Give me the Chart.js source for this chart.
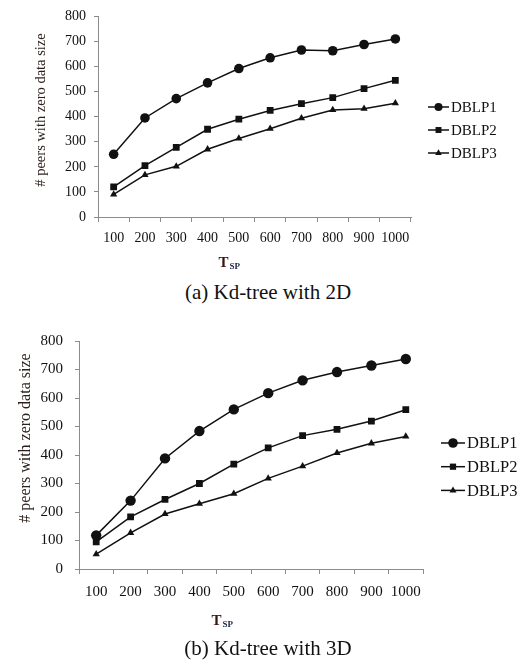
<!DOCTYPE html>
<html lang="en">
<head>
  <meta charset="UTF-8">
  <title>Kd-tree: peers with zero data size</title>
  <script src="https://cdn.jsdelivr.net/npm/chart.js"></script>
  <style>
    body {
      margin: 0;
      background: #fff;
      font-family: "Liberation Serif", "DejaVu Serif", serif;
      color: #111;
    }
    .wrap {
      position: relative;
      width: 520px;
      height: 666px;
    }
    canvas {
      position: absolute;
      left: 0;
    }
    .caption {
      position: absolute;
      left: 0;
      width: 536px;
      text-align: center;
      font-size: 21px;
      line-height: 24px;
    }
  </style>
</head>
<body>
<div class="wrap">
  <canvas id="chart2d" width="520" height="275" style="top:0"></canvas>
  <div class="caption" style="top:280px">(a) Kd-tree with 2D</div>
  <canvas id="chart3d" width="520" height="320" style="top:320px"></canvas>
  <div class="caption" style="top:636px">(b) Kd-tree with 3D</div>
</div>

<script>
  // T_SP values on the x axis
  const categories = ['100', '200', '300', '400', '500', '600', '700', '800', '900', '1000'];
  const seriesNames = ['DBLP1', 'DBLP2', 'DBLP3'];
  const markers = ['circle', 'rect', 'triangle'];

  // (a) 2D
  const dblp1_2d = [250, 395, 472, 535, 592, 635, 666, 663, 688, 710];
  const dblp2_2d = [120, 205, 278, 350, 390, 425, 452, 476, 512, 545];
  const dblp3_2d = [90, 168, 202, 270, 313, 352, 394, 427, 432, 454];

  // (b) 3D
  const dblp1_3d = [118, 240, 388, 484, 560, 617, 662, 691, 714, 737];
  const dblp2_3d = [95, 183, 244, 300, 368, 425, 468, 490, 519, 559];
  const dblp3_3d = [52, 127, 193, 229, 264, 318, 361, 407, 441, 465];

  const yMin = 0, yMax = 800, yStep = 100;
  const yTitle = '# peers with zero data size';

  const ink = '#111';
  const axisGrey = '#8c8c8c';

  function marker(ctx, style, x, y, r) {
    ctx.beginPath();
    if (style === 'circle') {
      ctx.arc(x, y, r, 0, Math.PI * 2);
    } else if (style === 'rect') {
      const s = r * Math.SQRT1_2;
      ctx.rect(x - s, y - s, 2 * s, 2 * s);
    } else {
      ctx.moveTo(x, y - r);
      ctx.lineTo(x + r * 0.866, y + r * 0.5);
      ctx.lineTo(x - r * 0.866, y + r * 0.5);
      ctx.closePath();
    }
    ctx.fill();
  }

  // legend with line + marker, x title with subscript, rotated y title
  const extras = {
    id: 'extras',
    afterDraw(chart, args, o) {
      const ctx = chart.ctx;
      ctx.save();
      chart.data.datasets.forEach((ds, i) => {
        const y = o.legY + i * o.legGap;
        ctx.strokeStyle = ink;
        ctx.fillStyle = ink;
        ctx.lineWidth = 1.5;
        ctx.beginPath();
        ctx.moveTo(o.legX, y);
        ctx.lineTo(o.legX + o.legLen, y);
        ctx.stroke();
        marker(ctx, ds.pointStyle, o.legX + o.legLen / 2, y, o.legR[i]);
        ctx.font = o.legFont + 'px "Liberation Serif"';
        ctx.textAlign = 'left';
        ctx.textBaseline = 'middle';
        ctx.fillText(ds.label, o.legX + o.legLen + 2, y + 1);
      });

      const xs = chart.scales.x;
      const tx = xs.left + xs.width * 0.385;
      ctx.textBaseline = 'alphabetic';
      ctx.textAlign = 'left';
      ctx.font = 'bold ' + o.tFont + 'px "Liberation Serif"';
      ctx.fillStyle = '#3a1410';
      ctx.fillText('T', tx, o.tY);
      const tw = ctx.measureText('T').width;
      ctx.font = 'bold ' + Math.round(o.tFont * 0.62) + 'px "Liberation Serif"';
      ctx.fillStyle = '#1c2240';
      ctx.fillText('SP', tx + tw + 1, o.tY + 2);

      ctx.translate(o.yTitleX, o.yTitleY);
      ctx.rotate(-Math.PI / 2);
      ctx.font = o.yFont + 'px "Liberation Serif"';
      ctx.fillStyle = '#2a1f1a';
      ctx.textAlign = 'center';
      ctx.textBaseline = 'middle';
      ctx.fillText(yTitle, 0, 0);
      ctx.restore();
    }
  };

  function makeChart(id, values, cfg) {
    const datasets = values.map((v, i) => ({
      label: seriesNames[i],
      data: v,
      borderColor: ink,
      backgroundColor: ink,
      borderWidth: 1.5,
      pointStyle: markers[i],
      pointRadius: cfg.pointR[i],
      pointBorderWidth: 0,
      pointBackgroundColor: ink,
      tension: 0
    }));

    return new Chart(document.getElementById(id), {
      type: 'line',
      data: { labels: categories, datasets },
      options: {
        responsive: false,
        animation: false,
        layout: { padding: { top: cfg.top, right: cfg.right, bottom: 0, left: 0 } },
        plugins: {
          legend: { display: false },
          tooltip: { enabled: false },
          extras: cfg.extras
        },
        scales: {
          x: {
            offset: true,
            grid: { offset: true, drawOnChartArea: false, tickLength: 5, color: axisGrey },
            border: { color: axisGrey, width: 1 },
            ticks: {
              color: ink,
              font: { family: 'Liberation Serif', size: cfg.tickFont },
              padding: cfg.xPad,
              autoSkip: false,
              maxRotation: 0
            },
            afterFit: s => { s.height = cfg.xHeight; }
          },
          y: {
            min: yMin,
            max: yMax,
            grid: { drawOnChartArea: false, tickLength: 4, color: axisGrey },
            border: { color: axisGrey, width: 1 },
            ticks: {
              stepSize: yStep,
              color: ink,
              font: { family: 'Liberation Serif', size: cfg.tickFont },
              padding: cfg.yPad
            },
            afterFit: s => { s.width = cfg.yWidth; }
          }
        }
      },
      plugins: [extras]
    });
  }

  makeChart('chart2d', [dblp1_2d, dblp2_2d, dblp3_2d], {
    top: 15, right: 109, yWidth: 98, xHeight: 58,
    tickFont: 14, xPad: 8, yPad: 8,
    pointR: [4.8, 4.8, 4.2],
    extras: {
      legX: 428, legY: 107, legGap: 23, legLen: 21, legR: [4, 4.2, 3.8], legFont: 15,
      tFont: 15, tY: 267,
      yTitleX: 41, yTitleY: 110, yFont: 14.5
    }
  });

  makeChart('chart3d', [dblp1_3d, dblp2_3d, dblp3_3d], {
    top: 17, right: 97, yWidth: 79, xHeight: 71,
    tickFont: 15, xPad: 9, yPad: 12,
    pointR: [5.2, 4.8, 4.2],
    extras: {
      legX: 441, legY: 123, legGap: 23.7, legLen: 24, legR: [4.8, 4.4, 4], legFont: 16.5,
      tFont: 15, tY: 305,
      yTitleX: 26, yTitleY: 118, yFont: 16
    }
  });
</script>
</body>
</html>
